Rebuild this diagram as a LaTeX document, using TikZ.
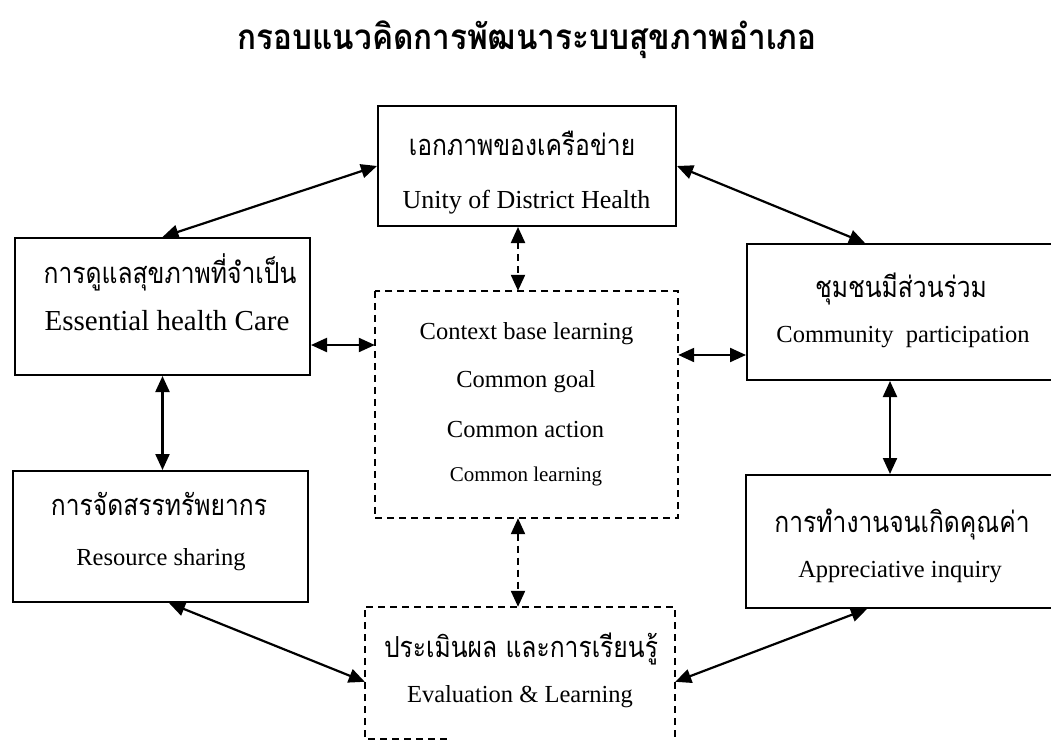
\documentclass[tikz,border=0pt]{standalone}
\usepackage{fontspec}
\setmainfont{Liberation Serif}
\newfontfamily\thaifont[Script=Thai,FakeStretch=0.85]{Loma}
\newfontfamily\thaititle[Script=Thai,FakeStretch=0.9]{Loma}
\usetikzlibrary{arrows.meta,calc}

\begin{document}
\begin{tikzpicture}[x=1pt,y=-1pt,
  box/.style={draw,line width=2pt,inner sep=0pt},
  dashbox/.style={line width=1.8pt,dash pattern=on 7pt off 5pt},
  th/.style={font=\thaifont\fontsize{29}{33}\selectfont,inner sep=0pt,anchor=base},
  en/.style={font=\fontsize{24.5}{28}\selectfont,inner sep=0pt,anchor=base},
  arr/.style={line width=2.2pt,{Triangle[length=16pt,width=14pt]}-{Triangle[length=16pt,width=14pt]}},
  darr/.style={arr,dash pattern=on 7pt off 5pt}]
\useasboundingbox (0,0) rectangle (1051,741);

% title
\node[inner sep=0pt,anchor=base,font=\thaititle\bfseries\fontsize{35}{40}\selectfont] (title) at (527,50) {กรอบแนวคิดการพัฒนาระบบสุขภาพอำเภอ};

% boxes
\node[box,minimum width=298pt,minimum height=120pt] (unity) at (527,166) {};
\node[box,minimum width=295pt,minimum height=137pt] (ess)   at (162.5,306.5) {};
\node[box,minimum width=313pt,minimum height=136pt] (comm)  at (903.5,312) {};
\node[box,minimum width=295pt,minimum height=131pt] (res)   at (160.5,536.5) {};
\node[box,minimum width=314pt,minimum height=133pt] (appr)  at (903,541.5) {};
\node[inner sep=0pt,minimum width=303pt,minimum height=227pt] (ctr) at (526.5,404.5) {};
\node[inner sep=0pt,minimum width=310pt,minimum height=132pt] (eval) at (520,673) {};

\draw[dashbox] (ctr.north west) rectangle (ctr.south east);
\draw[dashbox] ($(eval.south west)+(82,0)$) -- (eval.south west) -- (eval.north west) -- (eval.north east) -- (eval.south east);

% texts
\node[th] (unity-th) at (522,155) {เอกภาพของเครือข่าย};
\node[en,font=\fontsize{26}{30}\selectfont] (unity-en) at (526.5,208) {Unity of District Health};

\node[th] (ess-th) at (170,283) {การดูแลสุขภาพที่จำเป็น};
\node[en,font=\fontsize{29}{33}\selectfont] (ess-en) at (167,330) {Essential health Care};

\node[th] (comm-th) at (901,297) {ชุมชนมีส่วนร่วม};
\node[en] (comm-en) at (903,342) {Community\ \ participation};

\node[th] (res-th) at (159,515) {การจัดสรรทรัพยากร};
\node[en] (res-en) at (161,565) {Resource sharing};

\node[th] (appr-th) at (902,532) {การทำงานจนเกิดคุณค่า};
\node[en] (appr-en) at (900,577) {Appreciative inquiry};

\node[th] (eval-th) at (521,657) {ประเมินผล และการเรียนรู้};
\node[en] (eval-en) at (520,702) {Evaluation \& Learning};

\node[en] (ctr-a) at (526.5,339) {Context base learning};
\node[en] (ctr-b) at (526,387) {Common goal};
\node[en] (ctr-c) at (525.5,437) {Common action};
\node[en,font=\fontsize{21}{25}\selectfont] (ctr-d) at (526,481) {Common learning};

% connectors
\coordinate (vmid) at (518,0);
\coordinate (vright) at (890,0);
\coordinate (hleft) at (0,345);
\coordinate (hright) at (0,355);

\draw[arr] (ess.north) -- (unity.west);
\draw[arr] (unity.east) -- ($(comm.north west)+(119,0)$);
\draw[darr] (unity.south -| vmid) -- (ctr.north -| vmid);
\draw[darr] (ctr.south -| vmid) -- (eval.north -| vmid);
\draw[arr] (hleft -| ess.east) -- (hleft -| ctr.west);
\draw[arr] (hright -| ctr.east) -- (hright -| comm.west);
\draw[arr] (ess.south) -- (ess.south |- res.north);
\draw[arr] (comm.south -| vright) -- (appr.north -| vright);
\draw[arr] ($(res.south west)+(157,0)$) -- ($(eval.north west)+(0,75)$);
\draw[arr] ($(appr.south west)+(122,0)$) -- ($(eval.north east)+(0,75)$);
\end{tikzpicture}
\end{document}
